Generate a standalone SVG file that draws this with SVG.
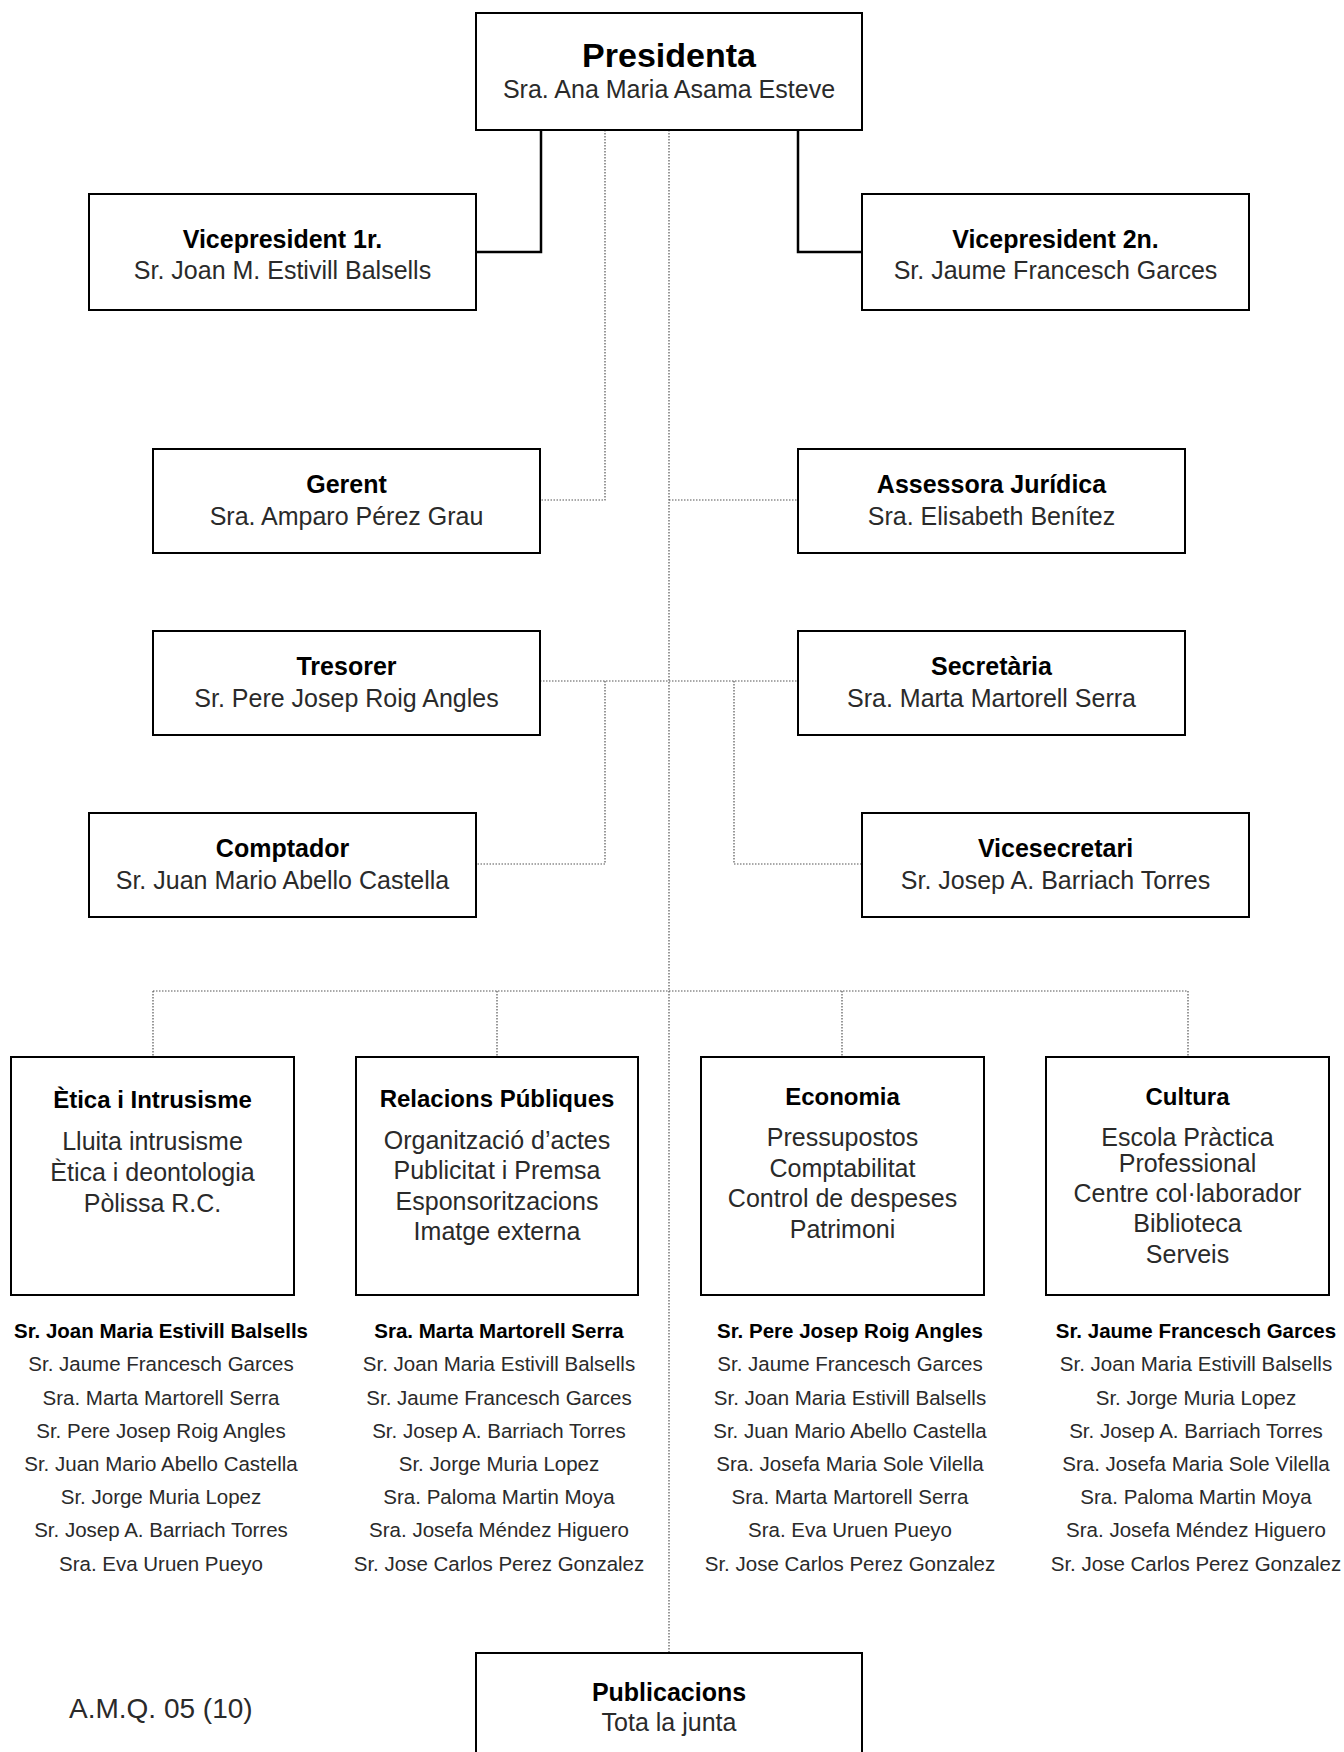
<svg xmlns="http://www.w3.org/2000/svg" width="1344" height="1752" viewBox="0 0 1344 1752">
<style>
.box{fill:#fff;stroke:#000;stroke-width:2}
.solid{fill:none;stroke:#000;stroke-width:2.5}
.dot{fill:none;stroke:#555;stroke-width:1.2;stroke-dasharray:1.5 1.5}
text{font-family:"Liberation Sans",Arial,sans-serif;text-anchor:middle}
.h{font-weight:bold;font-size:25px;fill:#000}
.h1{font-weight:bold;font-size:34px;fill:#000}
.s{font-size:25px;fill:#2a2a2a}
.hb{font-weight:bold;font-size:24px;fill:#000}
.b{font-size:25px;fill:#2a2a2a}
.mh{font-weight:bold;font-size:20.5px;fill:#000}
.m{font-size:20.5px;fill:#2a2a2a}
.code{font-size:28px;fill:#2a2a2a;text-anchor:start}
</style>
<rect width="1344" height="1752" fill="#fff"/>
<g id="connectors">
<path class="solid" d="M541 130V252H476"/>
<path class="solid" d="M798 130V252H862"/>
<path class="dot" d="M669 130V1653"/>
<path class="dot" d="M605 130V500H540"/>
<path class="dot" d="M669 500H798"/>
<path class="dot" d="M540 681H798"/>
<path class="dot" d="M605 681V864H476"/>
<path class="dot" d="M734 681V864H862"/>
<path class="dot" d="M153 991H1188"/>
<path class="dot" d="M153 991V1057M497 991V1057M842 991V1057M1188 991V1057"/>
</g>
<g id="presidenta">
<rect class="box" x="476" y="13" width="386" height="117"/>
<text class="h1" x="669" y="67">Presidenta</text>
<text class="s" x="669" y="98">Sra. Ana Maria Asama Esteve</text>
</g>
<g id="vice1">
<rect class="box" x="89" y="194" width="387" height="116"/>
<text class="h" x="282.5" y="248">Vicepresident 1r.</text>
<text class="s" x="282.5" y="279">Sr. Joan M. Estivill Balsells</text>
</g>
<g id="vice2">
<rect class="box" x="862" y="194" width="387" height="116"/>
<text class="h" x="1055.5" y="248">Vicepresident 2n.</text>
<text class="s" x="1055.5" y="279">Sr. Jaume Francesch Garces</text>
</g>
<g id="gerent">
<rect class="box" x="153" y="449" width="387" height="104"/>
<text class="h" x="346.5" y="493">Gerent</text>
<text class="s" x="346.5" y="525">Sra. Amparo Pérez Grau</text>
</g>
<g id="assessora">
<rect class="box" x="798" y="449" width="387" height="104"/>
<text class="h" x="991.5" y="493">Assessora Jurídica</text>
<text class="s" x="991.5" y="525">Sra. Elisabeth Benítez</text>
</g>
<g id="tresorer">
<rect class="box" x="153" y="631" width="387" height="104"/>
<text class="h" x="346.5" y="675">Tresorer</text>
<text class="s" x="346.5" y="707">Sr. Pere Josep Roig Angles</text>
</g>
<g id="secretaria">
<rect class="box" x="798" y="631" width="387" height="104"/>
<text class="h" x="991.5" y="675">Secretària</text>
<text class="s" x="991.5" y="707">Sra. Marta Martorell Serra</text>
</g>
<g id="comptador">
<rect class="box" x="89" y="813" width="387" height="104"/>
<text class="h" x="282.5" y="857">Comptador</text>
<text class="s" x="282.5" y="889">Sr. Juan Mario Abello Castella</text>
</g>
<g id="vicesecretari">
<rect class="box" x="862" y="813" width="387" height="104"/>
<text class="h" x="1055.5" y="857">Vicesecretari</text>
<text class="s" x="1055.5" y="889">Sr. Josep A. Barriach Torres</text>
</g>
<g id="etica">
<rect class="box" x="11" y="1057" width="283" height="238"/>
<text class="hb" x="152.5" y="1108">Ètica i Intrusisme</text>
<text class="b" x="152.5" y="1150">Lluita intrusisme</text>
<text class="b" x="152.5" y="1181">Ètica i deontologia</text>
<text class="b" x="152.5" y="1212">Pòlissa R.C.</text>
</g>
<g id="relacions">
<rect class="box" x="356" y="1057" width="282" height="238"/>
<text class="hb" x="497" y="1107">Relacions Públiques</text>
<text class="b" x="497" y="1149">Organització d’actes</text>
<text class="b" x="497" y="1179">Publicitat i Premsa</text>
<text class="b" x="497" y="1210">Esponsoritzacions</text>
<text class="b" x="497" y="1240">Imatge externa</text>
</g>
<g id="economia">
<rect class="box" x="701" y="1057" width="283" height="238"/>
<text class="hb" x="842.5" y="1105">Economia</text>
<text class="b" x="842.5" y="1146">Pressupostos</text>
<text class="b" x="842.5" y="1177">Comptabilitat</text>
<text class="b" x="842.5" y="1207">Control de despeses</text>
<text class="b" x="842.5" y="1238">Patrimoni</text>
</g>
<g id="cultura">
<rect class="box" x="1046" y="1057" width="283" height="238"/>
<text class="hb" x="1187.5" y="1105">Cultura</text>
<text class="b" x="1187.5" y="1146">Escola Pràctica</text>
<text class="b" x="1187.5" y="1172">Professional</text>
<text class="b" x="1187.5" y="1202">Centre col·laborador</text>
<text class="b" x="1187.5" y="1232">Biblioteca</text>
<text class="b" x="1187.5" y="1263">Serveis</text>
</g>
<g id="members-etica">
<text class="mh" x="161" y="1338">Sr. Joan Maria Estivill Balsells</text>
<text class="m" x="161" y="1371">Sr. Jaume Francesch Garces</text>
<text class="m" x="161" y="1405">Sra. Marta Martorell Serra</text>
<text class="m" x="161" y="1438">Sr. Pere Josep Roig Angles</text>
<text class="m" x="161" y="1471">Sr. Juan Mario Abello Castella</text>
<text class="m" x="161" y="1504">Sr. Jorge Muria Lopez</text>
<text class="m" x="161" y="1537">Sr. Josep A. Barriach Torres</text>
<text class="m" x="161" y="1571">Sra. Eva Uruen Pueyo</text>
</g>
<g id="members-relacions">
<text class="mh" x="499" y="1338">Sra. Marta Martorell Serra</text>
<text class="m" x="499" y="1371">Sr. Joan Maria Estivill Balsells</text>
<text class="m" x="499" y="1405">Sr. Jaume Francesch Garces</text>
<text class="m" x="499" y="1438">Sr. Josep A. Barriach Torres</text>
<text class="m" x="499" y="1471">Sr. Jorge Muria Lopez</text>
<text class="m" x="499" y="1504">Sra. Paloma Martin Moya</text>
<text class="m" x="499" y="1537">Sra. Josefa Méndez Higuero</text>
<text class="m" x="499" y="1571">Sr. Jose Carlos Perez Gonzalez</text>
</g>
<g id="members-economia">
<text class="mh" x="850" y="1338">Sr. Pere Josep Roig Angles</text>
<text class="m" x="850" y="1371">Sr. Jaume Francesch Garces</text>
<text class="m" x="850" y="1405">Sr. Joan Maria Estivill Balsells</text>
<text class="m" x="850" y="1438">Sr. Juan Mario Abello Castella</text>
<text class="m" x="850" y="1471">Sra. Josefa Maria Sole Vilella</text>
<text class="m" x="850" y="1504">Sra. Marta Martorell Serra</text>
<text class="m" x="850" y="1537">Sra. Eva Uruen Pueyo</text>
<text class="m" x="850" y="1571">Sr. Jose Carlos Perez Gonzalez</text>
</g>
<g id="members-cultura">
<text class="mh" x="1196" y="1338">Sr. Jaume Francesch Garces</text>
<text class="m" x="1196" y="1371">Sr. Joan Maria Estivill Balsells</text>
<text class="m" x="1196" y="1405">Sr. Jorge Muria Lopez</text>
<text class="m" x="1196" y="1438">Sr. Josep A. Barriach Torres</text>
<text class="m" x="1196" y="1471">Sra. Josefa Maria Sole Vilella</text>
<text class="m" x="1196" y="1504">Sra. Paloma Martin Moya</text>
<text class="m" x="1196" y="1537">Sra. Josefa Méndez Higuero</text>
<text class="m" x="1196" y="1571">Sr. Jose Carlos Perez Gonzalez</text>
</g>
<g id="publicacions">
<rect class="box" x="476" y="1653" width="386" height="120"/>
<text class="h" x="669" y="1701">Publicacions</text>
<text class="s" x="669" y="1731">Tota la junta</text>
</g>
<text class="code" x="69" y="1718">A.M.Q. 05 (10)</text>
</svg>
